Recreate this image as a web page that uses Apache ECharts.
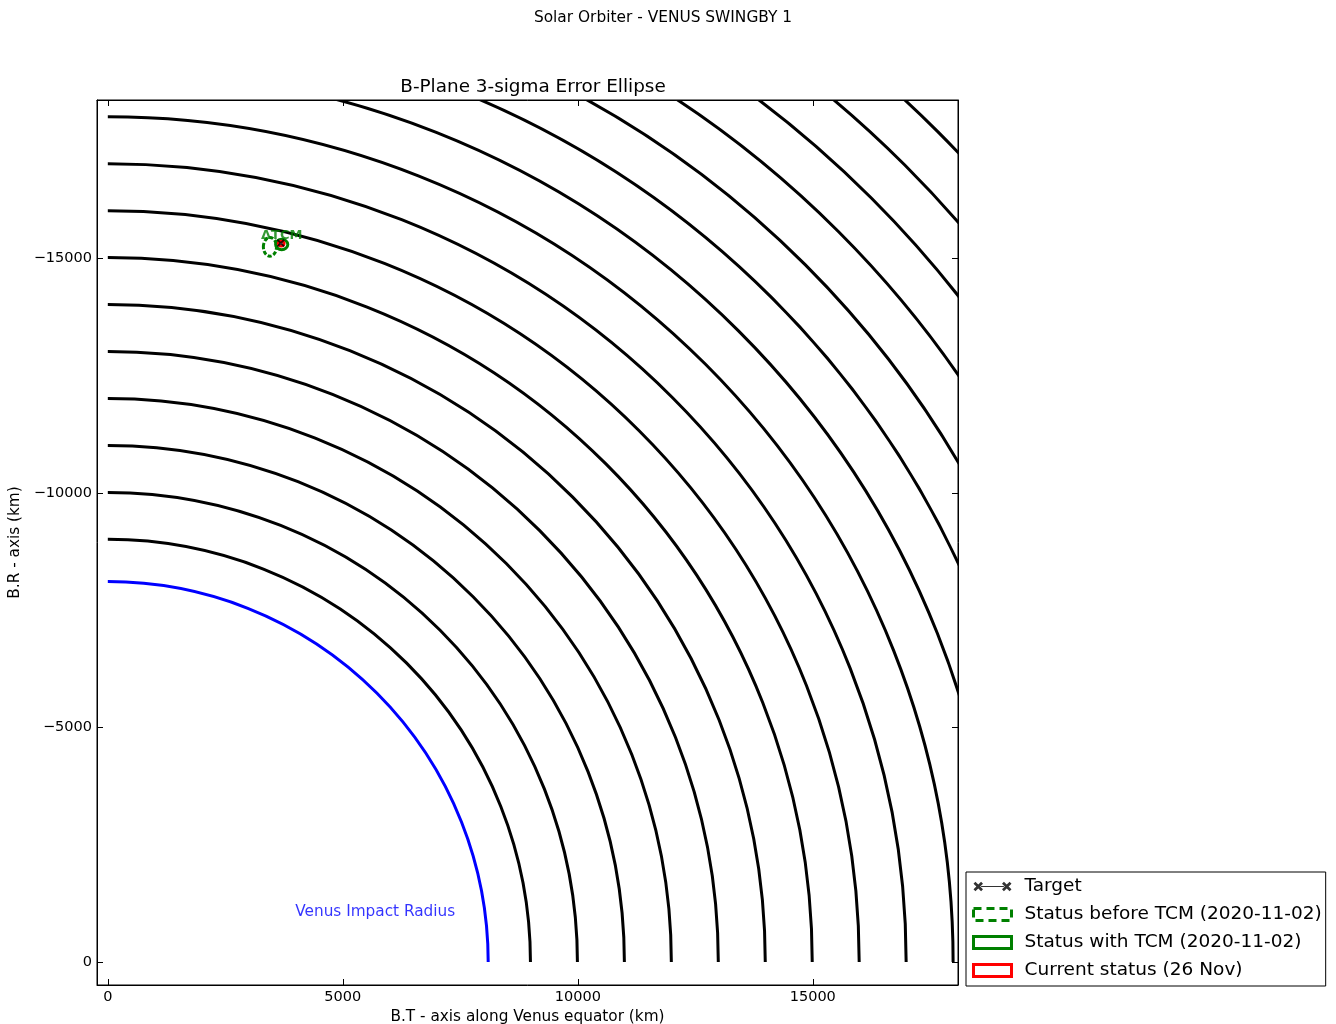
<!DOCTYPE html>
<html>
<head>
<meta charset="utf-8">
<script src="https://cdn.jsdelivr.net/npm/echarts@6/dist/echarts.min.js"></script>
<title>Solar Orbiter - VENUS SWINGBY 1</title>
<style>
  html, body { margin: 0; padding: 0; background: #fff; }
  #main { width: 1336px; height: 1024px; }
</style>
</head>
<body>
<div id="main"></div>
<script type="text/javascript">
// B-plane rings (km), black
var ringRadii = [9000, 10000, 11000, 12000, 13000, 14000, 15000, 16000, 17000,
                 18000, 19000, 20000, 21000, 22000, 23000, 24000, 25000];
// Venus impact radius (km), blue
var impactRadius = [8100];
// target point [B.T, B.R]
var targetPoint = [[3680, -15320]];
// ellipses [B.T centre, B.R centre, semi-axis T, semi-axis R]
var ellipseBefore = [[3450, -15240, 140, 200]];
var ellipseWith = [[3700, -15290, 130, 110]];
var ellipseCurrent = [[3690, -15310, 60, 50]];
// annotation labels [B.T, B.R, text]
var impactLabel = [[5690, -1060, 'Venus Impact Radius']];
var tcmLabel = [[3700, -15470, 'ΔTCM']];
// tick values
var xTicks = [0, 5000, 10000, 15000];
var yTicks = [-15000, -10000, -5000, 0];

var FONT = 'DejaVu Sans';
var myChart = echarts.init(document.getElementById('main'), null, { renderer: 'canvas' });

function minusFmt(v) {
  return v < 0 ? '\u2212' + Math.abs(v) : String(v);
}

function ringItem(color) {
  return function (params, api) {
    var c = api.coord([0, 0]);
    var r = api.value(0);
    var sx = api.size([r, 0])[0];
    var sy = api.size([0, r])[1];
    return {
      type: 'arc',
      shape: { cx: c[0], cy: c[1], r: (sx + sy) / 2, startAngle: -Math.PI / 2, endAngle: 0, clockwise: true },
      style: { stroke: color, lineWidth: 3, fill: null }
    };
  };
}

function ellipseItem(color, dashed) {
  return function (params, api) {
    var c = api.coord([api.value(0), api.value(1)]);
    var rx = api.size([api.value(2), 0])[0];
    var ry = api.size([0, api.value(3)])[1];
    return {
      type: 'ellipse',
      shape: { cx: c[0], cy: c[1], rx: rx, ry: ry },
      style: { stroke: color, lineWidth: 3, fill: null, lineDash: dashed ? [4, 2] : null }
    };
  };
}

var xPath = 'path://M0,1.6 L1.6,0 L5,3.4 L8.4,0 L10,1.6 L6.6,5 L10,8.4 L8.4,10 L5,6.6 L1.6,10 L0,8.4 L3.4,5 Z';
var legendTargetPath = 'path://M0,2 L2,0 L5,3 L8,0 L10,2 L7,5 L10,8 L8,10 L5,7 L2,10 L0,8 L3,5 Z ' +
  'M8,4.5 L32,4.5 L32,5.5 L8,5.5 Z ' +
  'M30,2 L32,0 L35,3 L38,0 L40,2 L37,5 L40,8 L38,10 L35,7 L32,10 L30,8 L33,5 Z';

var axisCommon = {
  axisLine: { show: true, onZero: false, lineStyle: { color: '#000', width: 1 } },
  splitLine: { show: false },
  axisTick: { show: true, inside: true, length: 6, lineStyle: { color: '#000', width: 1 } }
};

var option = {
  backgroundColor: '#fff',
  animation: false,
  title: [
    { text: 'Solar Orbiter - VENUS SWINGBY 1', left: 658, top: 5, textAlign: 'center',
      textStyle: { fontFamily: FONT, fontSize: 15.4, fontWeight: 'normal', color: '#000' } },
    { text: 'B-Plane 3-sigma Error Ellipse', left: 528, top: 73, textAlign: 'center',
      textStyle: { fontFamily: FONT, fontSize: 18.4, fontWeight: 'normal', color: '#000' } }
  ],
  grid: { left: 97, top: 100, width: 861, height: 885, show: true, borderColor: '#000', borderWidth: 1,
          outerBoundsMode: 'none', containLabel: false },
  legend: {
    orient: 'vertical', left: 966, top: 872,
    backgroundColor: '#fff', borderColor: '#000', borderWidth: 1,
    padding: [5, 4, 6, 6], itemGap: 9, itemWidth: 38, itemHeight: 12,
    textStyle: { fontFamily: FONT, fontSize: 18.5, color: '#000', padding: [0, 0, 0, 8] },
    data: [
      { name: 'Target', icon: legendTargetPath, itemStyle: { color: '#000' } },
      { name: 'Status before TCM (2020-11-02)', icon: 'rect',
        itemStyle: { color: '#fff', borderColor: 'green', borderWidth: 3, borderType: [8, 5] } },
      { name: 'Status with TCM (2020-11-02)', icon: 'rect',
        itemStyle: { color: '#fff', borderColor: 'green', borderWidth: 3 } },
      { name: 'Current status (26 Nov)', icon: 'rect',
        itemStyle: { color: '#fff', borderColor: 'red', borderWidth: 3 } }
    ]
  },
  xAxis: [
    echarts.util.merge({
      type: 'value', position: 'bottom', min: -230, max: 18090,
      name: 'B.T - axis along Venus equator (km)', nameLocation: 'middle', nameGap: 22,
      nameTextStyle: { fontFamily: FONT, fontSize: 15.3, color: '#000' },
      axisTick: { customValues: xTicks },
      axisLabel: { customValues: xTicks, margin: 5, fontFamily: FONT, fontSize: 14.5, color: '#000', formatter: minusFmt }
    }, axisCommon, false),
    echarts.util.merge({
      type: 'value', position: 'top', min: -230, max: 18090,
      axisTick: { customValues: xTicks },
      axisLabel: { show: false }
    }, axisCommon, false)
  ],
  yAxis: [
    echarts.util.merge({
      type: 'value', position: 'left', inverse: true, min: -18370, max: 490,
      name: 'B.R - axis (km)', nameLocation: 'middle', nameGap: 70,
      nameTextStyle: { fontFamily: FONT, fontSize: 15.3, color: '#000' },
      axisTick: { customValues: yTicks },
      axisLabel: { customValues: yTicks, margin: 5, fontFamily: FONT, fontSize: 14.5, color: '#000', formatter: minusFmt }
    }, axisCommon, false),
    echarts.util.merge({
      type: 'value', position: 'right', inverse: true, min: -18370, max: 490,
      axisTick: { customValues: yTicks },
      axisLabel: { show: false }
    }, axisCommon, false)
  ],
  series: [
    {
      name: 'rings', type: 'custom', clip: true, silent: true,
      renderItem: ringItem('#000'),
      data: ringRadii.map(function (r) { return [r]; })
    },
    {
      name: 'impact', type: 'custom', clip: true, silent: true,
      renderItem: ringItem('#0000ff'),
      data: impactRadius.map(function (r) { return [r]; })
    },
    {
      name: 'Status before TCM (2020-11-02)', type: 'custom', clip: true,
      renderItem: ellipseItem('green', true), data: ellipseBefore
    },
    {
      name: 'Status with TCM (2020-11-02)', type: 'custom', clip: true,
      renderItem: ellipseItem('green', false), data: ellipseWith
    },
    {
      name: 'Current status (26 Nov)', type: 'custom', clip: true,
      renderItem: ellipseItem('red', false), data: ellipseCurrent
    },
    {
      name: 'Target', type: 'scatter', symbol: xPath, symbolSize: 8,
      itemStyle: { color: '#000' }, data: targetPoint
    },
    {
      name: 'labels', type: 'scatter', symbolSize: 0, silent: true,
      data: impactLabel,
      label: { show: true, position: 'inside', formatter: function (p) { return p.value[2]; },
        fontFamily: FONT, fontSize: 15.3, color: '#0000ff' }
    },
    {
      name: 'tcm', type: 'scatter', symbolSize: 0, silent: true,
      data: tcmLabel,
      label: { show: true, position: 'inside', formatter: function (p) { return p.value[2]; },
        fontFamily: FONT, fontSize: 13, fontWeight: 'bold', color: 'green' }
    }
  ]
};

myChart.setOption(option);
</script>
</body>
</html>
